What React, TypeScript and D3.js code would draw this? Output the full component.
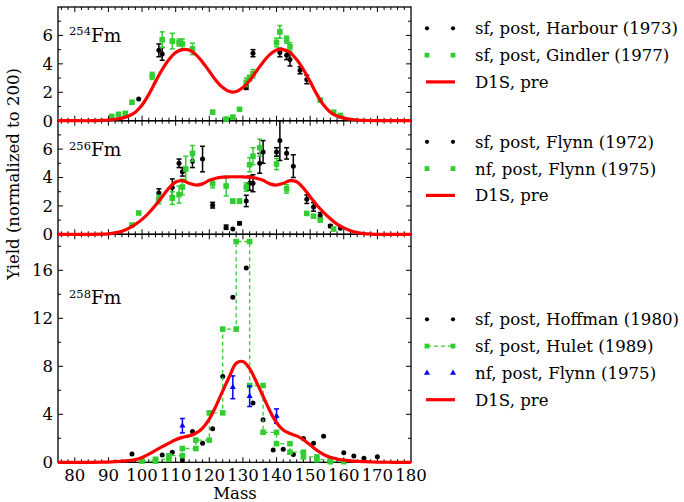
import React from "react";
import * as d3 from "d3";

// D1S (pre-neutron) curves, sampled on a common mass grid
const curveMass = [
  75, 80, 85, 88, 90, 92, 94, 96, 98, 100, 102, 104, 106, 108, 110, 112, 114, 116, 118, 120,
  122, 124, 126, 128, 130, 132, 134, 136, 138, 140, 142, 144, 146, 148, 150, 152, 154, 156,
  158, 160, 162, 164, 166, 168, 170, 175, 180,
];
const d1s254 = [
  0, 0, 0, 0.02, 0.05, 0.1, 0.18, 0.33, 0.6, 1.1, 1.85, 2.75, 3.6, 4.3, 4.8, 5.0, 4.97, 4.65,
  4.12, 3.48, 2.83, 2.33, 2.05, 2.05, 2.33, 2.83, 3.48, 4.12, 4.65, 4.97, 5.0, 4.8, 4.3, 3.6,
  2.75, 1.85, 1.1, 0.6, 0.33, 0.18, 0.1, 0.05, 0.02, 0.01, 0, 0, 0,
];
const d1s256 = [
  0, 0, 0, 0.01, 0.03, 0.1, 0.22, 0.42, 0.7, 1.05, 1.5, 2.05, 2.65, 3.25, 3.68, 3.78, 3.6, 3.47,
  3.55, 3.8, 3.95, 4.02, 4.05, 4.05, 4.05, 4.02, 3.95, 3.8, 3.55, 3.47, 3.6, 3.78, 3.7, 3.25,
  2.65, 2.05, 1.55, 1.1, 0.72, 0.45, 0.25, 0.12, 0.05, 0.02, 0, 0, 0,
];
const d1s258 = [
  0, 0, 0, 0.01, 0.02, 0.05, 0.09, 0.14, 0.22, 0.4, 0.68, 1.0, 1.3, 1.6, 1.88, 2.08, 2.2, 2.42,
  2.85, 3.6, 4.7, 5.95, 7.15, 8.25, 8.4, 7.8, 6.7, 5.5, 4.3, 3.3, 2.7, 2.4, 2.2, 1.88, 1.45,
  1.0, 0.65, 0.42, 0.28, 0.18, 0.12, 0.08, 0.05, 0.03, 0.02, 0, 0,
];

// measured yields: [mass, yield, error]
const harbour1973 = [
  [99, 1.53, 0], [105, 4.95, 0.45], [106, 4.7, 0.45], [131, 2.35, 0.15], [133, 4.75, 0.25],
  [141, 4.8, 0.3], [143, 4.6, 0.3], [144, 4.3, 0.45], [147, 3.55, 0.25], [149, 2.9, 0.3],
];
const gindler1977 = [
  [91, 0.3, 0], [93, 0.45, 0], [95, 0.52, 0], [97, 1.3, 0], [103, 3.15, 0.25], [106, 5.7, 0.55],
  [109, 5.6, 0.55], [111, 5.5, 0.25], [112, 5.4, 0.35], [115, 5.05, 0.4], [121, 0.6, 0],
  [125, 0.12, 0], [127, 0.25, 0], [129, 0.8, 0], [131, 2.7, 0.3], [132, 3.0, 0.2], [133, 3.3, 0.3],
  [140, 5.5, 0.3], [141, 6.25, 0.45], [143, 5.7, 0.25], [144, 5.2, 0.3], [153, 1.45, 0],
  [157, 0.6, 0], [159, 0.37, 0],
];
const flynn1972 = [
  [105, 2.9, 0.3], [109, 3.3, 0.6], [111, 5.0, 0.3], [112, 4.4, 0.3], [115, 5.15, 0.45],
  [118, 5.3, 0.9], [121, 2.05, 0.2], [125, 0.5, 0.15], [127, 0.37, 0], [129, 0.77, 0.1],
  [131, 2.35, 0.4], [132, 3.6, 0.5], [133, 3.6, 0.6], [135, 5.0, 0.7], [136, 5.8, 0.8],
  [140, 5.8, 0.3], [141, 6.6, 1.4], [143, 5.7, 0.4], [145, 4.8, 0.8], [149, 2.47, 0.3],
  [151, 1.93, 0.3], [153, 1.33, 0.2], [156, 0.58, 0.1], [159, 0.42, 0],
];
const flynn1975nf256 = [
  [97, 0.65, 0], [99, 1.5, 0], [105, 2.45, 0.3], [109, 2.55, 0.45], [111, 2.8, 0.6],
  [112, 3.33, 0.55], [113, 4.6, 0.9], [115, 5.7, 0.55], [121, 3.57, 0.3], [125, 3.4, 0.7],
  [127, 2.33, 0.15], [129, 2.33, 0.15], [131, 3.33, 0.3], [132, 4.9, 0.5], [133, 5.5, 0.6],
  [135, 6.1, 0.6], [140, 4.95, 0.4], [143, 3.2, 0.3], [149, 1.47, 0], [151, 1.28, 0],
  [153, 1.0, 0], [157, 0.37, 0],
];
const hoffman1980 = [
  [97, 0.7], [106, 0.61], [109, 0.84], [112, 0.19], [115, 2.56], [118, 1.59], [121, 2.79],
  [124, 7.16], [127, 13.75], [131, 16.2], [133, 4.94], [136, 3.54], [139, 1.03], [142, 1.09],
  [145, 0.64], [148, 1.98], [151, 1.59], [154, 2.17], [160, 0.8], [163, 0.53], [166, 0.33],
  [170, 0.47],
];
// [mass from, mass to, yield]
const hulet1989 = [
  [100, 104, 0.1], [104, 108, 0.25], [108, 112, 0.55], [112, 116, 1.15], [116, 120, 1.85],
  [120, 124, 4.12], [124, 128, 11.1], [128, 132, 18.4], [132, 136, 6.4], [136, 140, 2.5],
  [140, 144, 1.55], [144, 148, 0.84], [148, 152, 0.45], [152, 156, 0.22], [156, 160, 0.05],
];
const flynn1975nf258 = [[112, 3.05, 0.6], [127, 6.25, 0.95], [132, 5.5, 0.85], [140, 3.85, 0.6]];

const xTicks = [80, 90, 100, 110, 120, 130, 140, 150, 160, 170, 180];
const nuclides = ["254", "256", "258"];
const legend254 = ["sf, post, Harbour (1973)", "sf, post, Gindler (1977)", "D1S, pre"];
const legend256 = ["sf, post, Flynn (1972)", "nf, post, Flynn (1975)", "D1S, pre"];
const legend258 = ["sf, post, Hoffman (1980)", "sf, post, Hulet (1989)", "nf, post, Flynn (1975)", "D1S, pre"];

const FONT = "'DejaVu Serif', serif";
const GREEN = "#33cc33";
const RED = "#ff0000";
const BLUE = "#0000ff";

const x = d3.scaleLinear().domain([75, 180]).range([58, 411]);

const panels = [
  { top: 7, bottom: 120.7, max: 8, major: 2, minor: 1, labels: [0, 2, 4, 6], labelY: 41.7 },
  { top: 120.7, bottom: 234.3, max: 8, major: 2, minor: 1, labels: [0, 2, 4, 6], labelY: 156 },
  { top: 234.3, bottom: 462.3, max: 19, major: 4, minor: 2, labels: [0, 4, 8, 12, 16], labelY: 304 },
];

const Frame = ({ p }) => {
  const y = d3.scaleLinear().domain([0, p.max]).range([p.bottom, p.top]);
  const xt = d3.range(76, 180, 2);
  const yt = d3.range(p.minor, p.max, p.minor);
  return (
    <g stroke="#000" strokeWidth={1}>
      <rect x={58} y={p.top} width={353} height={p.bottom - p.top} fill="none" strokeWidth={1.3} />
      {xt.map((m) => {
        const len = m % 10 === 0 ? 5 : 3;
        return (
          <g key={m}>
            <line x1={x(m)} x2={x(m)} y1={p.bottom} y2={p.bottom - len} />
            <line x1={x(m)} x2={x(m)} y1={p.top} y2={p.top + len} />
          </g>
        );
      })}
      {yt.map((v) => {
        const len = v % p.major === 0 ? 5 : 3;
        return (
          <g key={v}>
            <line x1={58} x2={58 + len} y1={y(v)} y2={y(v)} />
            <line x1={411} x2={411 - len} y1={y(v)} y2={y(v)} />
          </g>
        );
      })}
    </g>
  );
};

const ErrorBar = ({ cx, y, v, e, color }) =>
  e > 0 ? (
    <g stroke={color} strokeWidth={1.5}>
      <line x1={cx} x2={cx} y1={y(v - e)} y2={y(v + e)} />
      <line x1={cx - 2.5} x2={cx + 2.5} y1={y(v - e)} y2={y(v - e)} />
      <line x1={cx - 2.5} x2={cx + 2.5} y1={y(v + e)} y2={y(v + e)} />
    </g>
  ) : null;

const Dots = ({ data, y }) => (
  <g>
    {data.map((d, i) => (
      <g key={i}>
        <ErrorBar cx={x(d[0])} y={y} v={d[1]} e={d[2] || 0} color="#000" />
        <circle cx={x(d[0])} cy={y(d[1])} r={2.5} fill="#000" />
      </g>
    ))}
  </g>
);

const Squares = ({ data, y }) => (
  <g>
    {data.map((d, i) => (
      <g key={i}>
        <ErrorBar cx={x(d[0])} y={y} v={d[1]} e={d[2] || 0} color={GREEN} />
        <rect x={x(d[0]) - 2.8} y={y(d[1]) - 2.8} width={5.6} height={5.6} fill={GREEN} />
      </g>
    ))}
  </g>
);

const triangle = d3.symbol(d3.symbolTriangle, 16)();

const Triangles = ({ data, y }) => (
  <g>
    {data.map((d, i) => (
      <g key={i}>
        <ErrorBar cx={x(d[0])} y={y} v={d[1]} e={d[2]} color={BLUE} />
        <path d={triangle} transform={`translate(${x(d[0])},${y(d[1])})`} fill={BLUE} />
      </g>
    ))}
  </g>
);

const Curve = ({ values, y }) => {
  const line = d3
    .line()
    .x((d) => x(d[0]))
    .y((d) => y(d[1]))
    .curve(d3.curveCatmullRom.alpha(0.5));
  const pts = curveMass.map((m, i) => [m, values[i]]);
  return <path d={line(pts)} fill="none" stroke={RED} strokeWidth={3.2} />;
};

const Legend = ({ items, y0, kinds }) => (
  <g fontFamily={FONT} fontSize={16.6}>
    {items.map((t, i) => {
      const cy = y0 + i * 26.8;
      const k = kinds[i];
      return (
        <g key={t}>
          {k === "dot" && [427, 453].map((cx) => <circle key={cx} cx={cx} cy={cy} r={2.1} fill="#000" />)}
          {k === "square" &&
            [427, 453].map((cx) => <rect key={cx} x={cx - 2.4} y={cy - 2.4} width={4.8} height={4.8} fill={GREEN} />)}
          {k === "dashSquare" && (
            <g>
              <line x1={427} x2={453} y1={cy} y2={cy} stroke={GREEN} strokeWidth={1.2} strokeDasharray="4,3" />
              {[427, 453].map((cx) => (
                <rect key={cx} x={cx - 2.4} y={cy - 2.4} width={4.8} height={4.8} fill={GREEN} />
              ))}
            </g>
          )}
          {k === "triangle" &&
            [427, 453].map((cx) => (
              <path key={cx} d={triangle} transform={`translate(${cx},${cy})`} fill={BLUE} />
            ))}
          {k === "line" && <line x1={426} x2={455} y1={cy} y2={cy} stroke={RED} strokeWidth={3.2} />}
          <text x={475} y={cy + 6}>{t}</text>
        </g>
      );
    })}
  </g>
);

export default function App() {
  const ys = panels.map((p) => d3.scaleLinear().domain([0, p.max]).range([p.bottom, p.top]));
  const hulletPts = hulet1989.flatMap((d) => [[d[0], d[2]], [d[1], d[2]]]);
  const stepLine = d3
    .line()
    .x((d) => x(d[0]))
    .y((d) => ys[2](d[1]));
  return (
    <svg width={684} height={502} style={{ position: "absolute", left: 0, top: 0, background: "#fff" }}>
      {panels.map((p, i) => (
        <Frame key={i} p={p} />
      ))}
      {/* y tick labels */}
      <g fontFamily={FONT} fontSize={16.5} textAnchor="end">
        {panels.map((p, i) =>
          p.labels.map((v) => (
            <text key={`${i}-${v}`} x={53} y={ys[i](v) + 5.8}>
              {v}
            </text>
          ))
        )}
      </g>
      {/* x tick labels */}
      <g fontFamily={FONT} fontSize={16.5} textAnchor="middle">
        {xTicks.map((m) => (
          <text key={m} x={x(m)} y={480.5}>
            {m}
          </text>
        ))}
        <text x={235} y={498.5}>Mass</text>
        <text transform="translate(19,174) rotate(-90)">Yield (normalized to 200)</text>
      </g>
      {/* nuclide labels */}
      {panels.map((p, i) => (
        <text key={i} x={69} y={p.labelY} fontFamily={FONT} fontSize={18.5}>
          <tspan fontSize={11.5} dy={-6.5}>{nuclides[i]}</tspan>
          <tspan dy={6.5}>Fm</tspan>
        </text>
      ))}

      {/* 254Fm */}
      <Dots data={harbour1973} y={ys[0]} />
      <Squares data={gindler1977} y={ys[0]} />
      <Curve values={d1s254} y={ys[0]} />

      {/* 256Fm */}
      <Dots data={flynn1972} y={ys[1]} />
      <Squares data={flynn1975nf256} y={ys[1]} />
      <Curve values={d1s256} y={ys[1]} />

      {/* 258Fm */}
      <Dots data={hoffman1980} y={ys[2]} />
      <path d={stepLine(hulletPts)} fill="none" stroke={GREEN} strokeWidth={1.3} strokeDasharray="4,3" />
      <Squares data={hulletPts} y={ys[2]} />
      <Triangles data={flynn1975nf258} y={ys[2]} />
      <Curve values={d1s258} y={ys[2]} />

      <Legend items={legend254} y0={28.3} kinds={["dot", "square", "line"]} />
      <Legend items={legend256} y0={141.8} kinds={["dot", "square", "line"]} />
      <Legend items={legend258} y0={319.3} kinds={["dot", "dashSquare", "triangle", "line"]} />
    </svg>
  );
}
